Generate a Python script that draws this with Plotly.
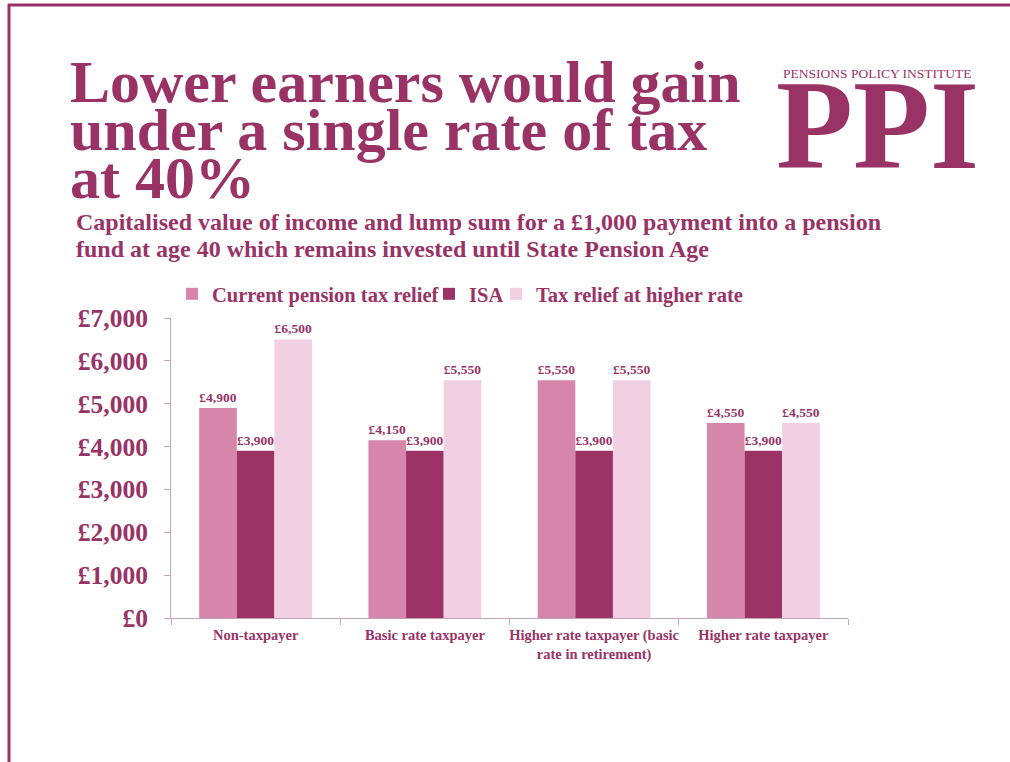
import plotly.graph_objects as go

# Chart data
categories = [
    "Non-taxpayer",
    "Basic rate taxpayer",
    "Higher rate taxpayer (basic<br>rate in retirement)",
    "Higher rate taxpayer",
]
series_names = ["Current pension tax relief", "ISA", "Tax relief at higher rate"]
current_relief = [4900, 4150, 5550, 4550]
isa = [3900, 3900, 3900, 3900]
higher_rate_relief = [6500, 5550, 5550, 4550]
y_tick_values = [0, 1000, 2000, 3000, 4000, 5000, 6000, 7000]
y_tick_labels = ["£0", "£1,000", "£2,000", "£3,000", "£4,000", "£5,000", "£6,000", "£7,000"]

title_lines = ["Lower earners would gain", "under a single rate of tax", "at 40%"]
subtitle_lines = [
    "Capitalised value of income and lump sum for a £1,000 payment into a pension",
    "fund at age 40 which remains invested until State Pension Age",
]

PLUM = "#993366"
COLORS = ["#D685AB", "#9B3366", "#F1D1E1"]
AXIS = "#C9A3B6"
FONT = "Liberation Serif"

W, H = 1010, 762
L, R, T, B = 171, 848, 318, 618  # plot area in pixels


def px(x):
    return (x - L) / (R - L)


def py(y):
    return (B - y) / (B - T)


legend_ids = ["legend", "legend2", "legend3"]
legend_left = [172, 429, 496]  # left edge of each legend entry box

fig = go.Figure()
for name, vals, col, lg in zip(series_names, [current_relief, isa, higher_rate_relief], COLORS, legend_ids):
    fig.add_trace(go.Bar(
        name=name,
        x=categories,
        y=vals,
        legend=lg,
        marker=dict(color=col, line=dict(width=0)),
        text=[f"£{v:,}" for v in vals],
        textposition="outside",
        cliponaxis=False,
        textfont=dict(family=FONT, size=13.5, color=PLUM, weight="bold"),
    ))

annotations = []
for i, line in enumerate(title_lines):
    annotations.append(dict(text=line, x=px(68), y=py(82 + 48 * i), xanchor="left", yanchor="middle",
                            font=dict(family=FONT, size=60, color=PLUM, weight="bold")))
for i, line in enumerate(subtitle_lines):
    annotations.append(dict(text=line, x=px(74), y=py(222 + 27 * i), xanchor="left", yanchor="middle",
                            font=dict(family=FONT, size=24, color=PLUM, weight="bold")))
annotations += [
    dict(text="PENSIONS POLICY INSTITUTE",
         x=px(877), y=py(73), xanchor="center", yanchor="middle",
         font=dict(family=FONT, size=13.5, color=PLUM)),
    dict(text="PPI",
         x=px(877), y=py(125), xanchor="center", yanchor="middle",
         font=dict(family=FONT, size=126, color=PLUM, weight="bold")),
]
for a in annotations:
    a.update(xref="paper", yref="paper", showarrow=False)

shapes = [
    dict(type="line", xref="paper", yref="paper", x0=px(8), x1=px(1012), y0=py(5), y1=py(5),
         line=dict(color=PLUM, width=3)),
    dict(type="line", xref="paper", yref="paper", x0=px(9), x1=px(9), y0=py(4), y1=py(764),
         line=dict(color=PLUM, width=3)),
]

legend_style = dict(orientation="h", yanchor="middle", y=py(294), xanchor="left",
                    font=dict(family=FONT, size=20.5, color=PLUM, weight="bold"),
                    itemwidth=30, bgcolor="rgba(0,0,0,0)")

fig.update_layout(
    width=W, height=H,
    margin=dict(l=L, r=W - R, t=T, b=H - B),
    paper_bgcolor="white", plot_bgcolor="white",
    barmode="group", bargap=0.333, bargroupgap=0,
    showlegend=True,
    annotations=annotations,
    shapes=shapes,
    font=dict(family=FONT, color=PLUM),
)
for lg, left in zip(legend_ids, legend_left):
    fig.update_layout({lg: dict(legend_style, x=px(left))})

fig.update_yaxes(
    range=[0, 7000], tickvals=y_tick_values, ticktext=y_tick_labels,
    showgrid=False, zeroline=False,
    showline=True, linecolor=AXIS, linewidth=1,
    ticks="outside", ticklen=6, tickcolor=AXIS,
    tickfont=dict(family=FONT, size=25.5, color=PLUM, weight="bold"),
    ticklabelstandoff=11,
)
fig.update_xaxes(
    showgrid=False, showline=True, linecolor=AXIS, linewidth=1,
    ticks="outside", ticklen=6, tickcolor=AXIS, tickson="boundaries",
    tickangle=0, ticklabelstandoff=4,
    tickfont=dict(family=FONT, size=14.5, color=PLUM, weight="bold"),
)

fig.write_html("out.html")
